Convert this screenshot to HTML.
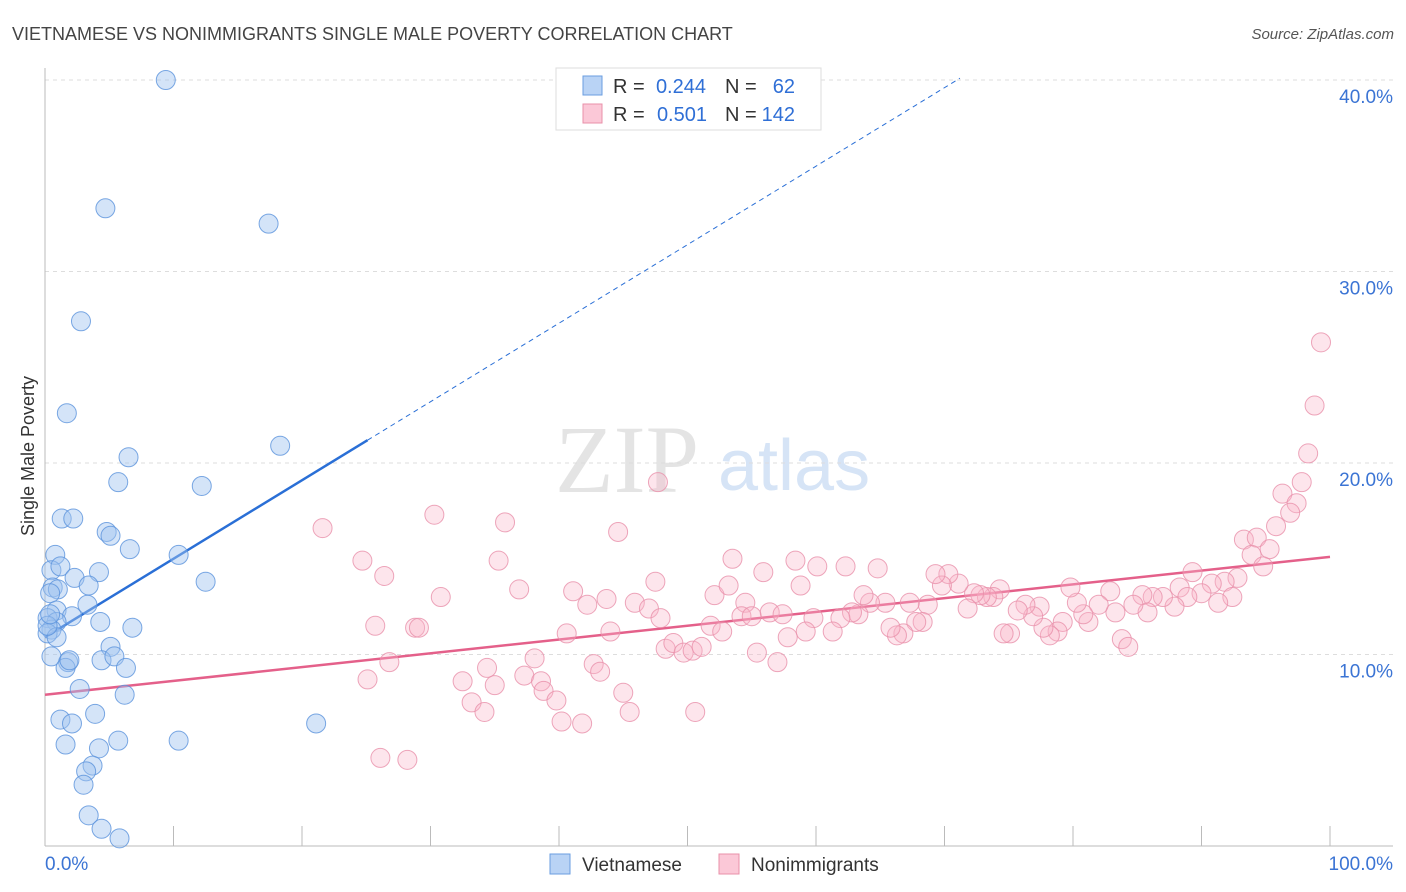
<!DOCTYPE html>
<html><head><meta charset="utf-8"><style>
body{margin:0;background:#fff;font-family:"Liberation Sans",sans-serif}
svg{display:block}
</style></head><body>
<svg id="chart" width="1406" height="892">
<text x="12" y="40" font-size="18" fill="#444">VIETNAMESE VS NONIMMIGRANTS SINGLE MALE POVERTY CORRELATION CHART</text>
<text x="1394" y="39" font-size="15" fill="#555" font-style="italic" text-anchor="end">Source: ZipAtlas.com</text>
<text x="555" y="492" font-size="96" fill="#e4e4e4" font-family="Liberation Serif,serif">ZIP</text>
<text x="718" y="490" font-size="72" fill="#d6e4f6">atlas</text>
<text transform="translate(34,456) rotate(-90)" font-size="18" fill="#333" text-anchor="middle">Single Male Poverty</text>
<g id="grid"></g><g id="axes"></g><g id="lines"></g><g id="pts"></g>
<g>
<rect x="556" y="68" width="265" height="62" fill="#fff" stroke="#ddd"/>
<rect x="583" y="76" width="19" height="19" fill="#b9d3f5" stroke="#6a9ee0"/>
<rect x="583" y="104" width="19" height="19" fill="#fbc8d7" stroke="#e890aa"/>
<text x="613" y="93" font-size="20" fill="#333">R =</text>
<text x="706" y="93" font-size="20" fill="#2f6fd6" text-anchor="end">0.244</text>
<text x="725" y="93" font-size="20" fill="#333">N =</text>
<text x="795" y="93" font-size="20" fill="#2f6fd6" text-anchor="end">62</text>
<text x="613" y="121" font-size="20" fill="#333">R =</text>
<text x="707" y="121" font-size="20" fill="#2f6fd6" text-anchor="end">0.501</text>
<text x="725" y="121" font-size="20" fill="#333">N =</text>
<text x="795" y="121" font-size="20" fill="#2f6fd6" text-anchor="end">142</text>
</g>
<g>
<rect x="550" y="854" width="20" height="20" fill="#b9d3f5" stroke="#6a9ee0"/>
<text x="582" y="871" font-size="19" fill="#333">Vietnamese</text>
<rect x="719" y="854" width="20" height="20" fill="#fbc8d7" stroke="#e890aa"/>
<text x="751" y="871" font-size="19" fill="#333">Nonimmigrants</text>
</g>
</svg>
<script>
const yTicks=[10,20,30,40];
const yTickLabels=["10.0%","20.0%","30.0%","40.0%"];
const xEndLabels=["0.0%","100.0%"];
const blueX=[9.4,4.7,17.4,2.8,1.7,18.3,6.5,5.7,12.2,1.3,2.2,4.8,5.1,6.6,0.8,10.4,0.5,1.2,2.3,4.2,12.5,0.6,3.4,1.0,0.4,3.3,0.9,6.8,2.1,4.3,0.2,0.9,0.5,0.2,0.9,5.1,4.4,5.4,6.3,0.5,1.8,1.6,2.7,6.2,1.2,2.1,3.9,5.7,1.6,10.4,21.1,4.2,3.7,3.2,3.0,3.4,4.4,5.8,0.2,0.4,1.9];
const blueY=[40.0,33.3,32.5,27.4,22.6,20.9,20.3,19.0,18.8,17.1,17.1,16.4,16.2,15.5,15.2,15.2,14.4,14.6,14.0,14.3,13.8,13.5,13.6,13.4,13.2,12.6,12.3,11.4,12.0,11.7,11.9,11.7,11.3,11.1,10.9,10.4,9.7,9.9,9.3,9.9,9.6,9.3,8.2,7.9,6.6,6.4,6.9,5.5,5.3,5.5,6.4,5.1,4.2,3.9,3.2,1.6,0.9,0.4,11.5,12.1,9.7];
const pinkX=[21.6,30.3,35.8,44.6,47.7,24.7,26.4,35.3,30.8,36.9,25.7,28.8,29.1,41.1,42.2,43.7,47.5,45.9,47.0,47.9,52.1,53.2,53.5,55.9,58.4,58.8,60.1,40.6,44.0,51.8,52.7,54.5,54.2,55.0,56.4,57.4,59.8,59.2,57.8,55.4,57.0,48.3,48.9,49.7,50.4,51.1,38.1,26.8,25.1,34.4,32.5,35.0,37.3,38.6,38.8,39.8,42.7,43.2,45.0,45.5,50.6,33.2,34.2,40.2,41.8,26.1,28.2,
99.3,98.8,98.3,97.8,96.3,97.4,96.9,95.8,93.3,94.3,95.3,93.9,94.8,92.8,89.3,91.8,90.8,90.0,92.4,91.3,88.3,88.9,87.9,87.0,86.2,85.4,85.8,84.7,82.9,83.3,82.0,81.2,80.8,80.3,79.8,83.8,84.3,79.2,78.8,78.2,77.7,77.4,76.9,76.3,75.7,75.1,74.6,74.3,73.8,73.3,72.8,72.3,71.8,71.1,70.3,69.8,69.3,68.7,68.3,67.8,67.3,66.8,66.3,65.8,65.4,64.8,64.2,63.7,63.3,62.8,61.9,61.3,62.3];
const pinkY=[16.6,17.3,16.9,16.4,19.0,14.9,14.1,14.9,13.0,13.4,11.5,11.4,11.4,13.3,12.6,12.9,13.8,12.7,12.4,11.9,13.1,13.6,15.0,14.3,14.9,13.6,14.6,11.1,11.2,11.5,11.2,12.7,12.0,12.0,12.2,12.1,11.9,11.2,10.9,10.1,9.6,10.3,10.6,10.1,10.2,10.4,9.8,9.6,8.7,9.3,8.6,8.4,8.9,8.6,8.1,7.6,9.5,9.1,8.0,7.0,7.0,7.5,7.0,6.5,6.4,4.6,4.5,
26.3,23.0,20.5,19.0,18.4,17.9,17.4,16.7,16.0,16.1,15.5,15.2,14.6,14.0,14.3,13.8,13.7,13.2,13.0,12.7,13.5,13.0,12.5,13.0,13.0,13.1,12.2,12.6,13.3,12.2,12.6,11.7,12.1,12.7,13.5,10.8,10.4,11.7,11.2,11.0,11.4,12.5,12.0,12.6,12.3,11.1,11.1,13.4,13.0,13.0,13.1,13.2,12.4,13.7,14.2,13.6,14.2,12.6,11.7,11.7,12.7,11.1,11.0,11.4,12.7,14.5,12.7,13.1,12.1,12.2,11.9,11.2,14.6];
const blueTrend=[10.9,0.41], pinkTrend=[7.9,0.072];
const X0=45,X1=1330,Y0=846,PXY=19.15;
const sx=v=>X0+(X1-X0)*v/100, sy=v=>Y0-v*PXY;
const NS="http://www.w3.org/2000/svg";
function mk(tag,attrs,parent,txt){const e=document.createElementNS(NS,tag);for(const k in attrs)e.setAttribute(k,attrs[k]);if(txt!=null)e.textContent=txt;document.getElementById(parent).appendChild(e);return e;}
yTicks.forEach((t,i)=>{
 const g=mk('line',{x1:45,x2:1393,y1:sy(t),y2:sy(t),stroke:'#ddd','stroke-dasharray':'4,4'},'grid');
 
 
 const l=mk('text',{x:1393,y:sy(t)+23,'font-size':19,fill:'#3b74d4','text-anchor':'end'},'grid',yTickLabels[i]);
 
 
});
const ax=mk('line',{x1:45,x2:1393,y1:846,y2:846,stroke:'#bbb'},'axes');


const ay=mk('line',{x1:45,x2:45,y1:68,y2:846,stroke:'#bbb'},'axes');


for(let i=0;i<=10;i++){const t=mk('line',{x1:sx(i*10),x2:sx(i*10),y1:826,y2:846,stroke:'#bbb'},'axes');
 
 }
const xl0=mk('text',{x:45,y:870,'font-size':19,fill:'#3b74d4'},'axes',xEndLabels[0]);


const xl1=mk('text',{x:1393,y:870,'font-size':19,fill:'#3b74d4','text-anchor':'end'},'axes',xEndLabels[1]);


const bl=mk('line',{x1:sx(0),y1:sy(blueTrend[0]),x2:sx(25.1),y2:sy(blueTrend[0]+blueTrend[1]*25.1),stroke:'#2a6fd6','stroke-width':2.5},'lines');


const bd=mk('line',{x1:sx(25.1),y1:sy(blueTrend[0]+blueTrend[1]*25.1),x2:sx(71.2),y2:sy(blueTrend[0]+blueTrend[1]*71.2),stroke:'#2a6fd6','stroke-width':1,'stroke-dasharray':'5,4'},'lines');


const pl=mk('line',{x1:sx(0),y1:sy(pinkTrend[0]),x2:sx(100),y2:sy(pinkTrend[0]+pinkTrend[1]*100),stroke:'#e4608a','stroke-width':2.5},'lines');


pinkX.forEach((x,i)=>{const c=mk('circle',{cx:sx(x),cy:sy(pinkY[i]),r:9.5,fill:'rgba(248,180,200,0.35)',stroke:'rgba(232,144,170,0.8)','stroke-width':1},'pts');
 
 });
blueX.forEach((x,i)=>{const c=mk('circle',{cx:sx(x),cy:sy(blueY[i]),r:9.5,fill:'rgba(160,196,240,0.45)',stroke:'rgba(90,146,220,0.8)','stroke-width':1},'pts');
 
 });
</script>
</body></html>
